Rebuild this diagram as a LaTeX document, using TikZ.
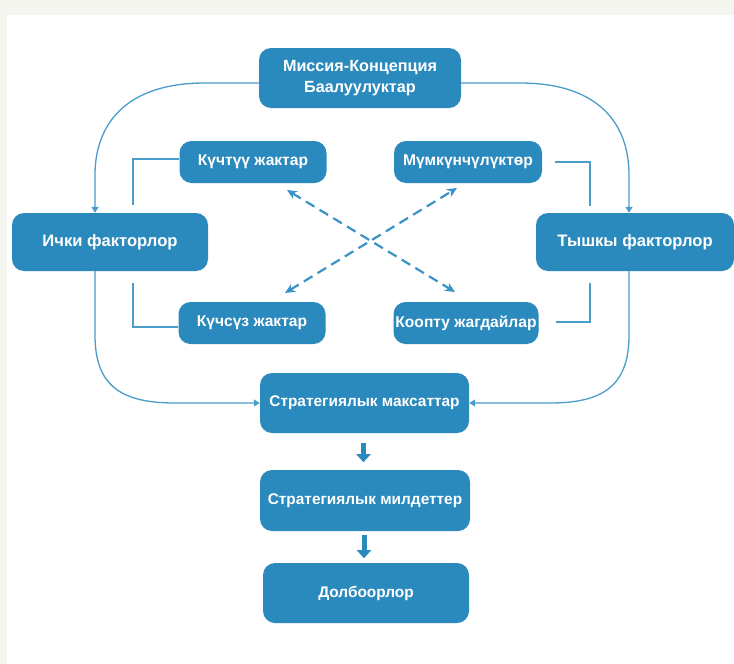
\documentclass[tikz,border=0pt]{standalone}
\usepackage{fontspec}
\setmainfont{Liberation Sans}
\usetikzlibrary{arrows.meta,calc}
\definecolor{boxblue}{HTML}{2B8ABD}
\definecolor{lineblue}{HTML}{4A9CCB}
\definecolor{dashblue}{HTML}{3A93C6}
\definecolor{paper}{HTML}{F5F5F0}
\tikzset{
  box/.style={fill=boxblue, rounded corners=12pt, text=white, font=\bfseries\fontsize{15.4}{18}\selectfont, align=center, inner sep=0pt},
  bigbox/.style={box, font=\bfseries\fontsize{16.6}{21}\selectfont},
  thinline/.style={draw=lineblue, line width=1.3pt},
  curveline/.style={draw=lineblue, line width=1.3pt, -{Triangle[length=6pt,width=7pt]}},
  dashline/.style={draw=dashblue, line width=2.2pt, dash pattern=on 10pt off 6pt, {Stealth[length=10pt,width=9pt]}-{Stealth[length=10pt,width=9pt]}},
  fatarrow/.style={draw=boxblue, line width=5pt, -{Triangle[length=8pt,width=14pt]}}
}
\begin{document}
\begin{tikzpicture}[x=1pt,y=-1pt]
\useasboundingbox (0,0) rectangle (734,664);
\fill[paper] (0,0) rectangle (734,664);
\fill[white] (7,15) rectangle (734,664);

\node[bigbox, font=\bfseries\fontsize{16.2}{21}\selectfont, minimum width=202pt, minimum height=60pt] (mis) at (360,78) {Миссия-Концепция\\Баалуулуктар};
\node[box, font=\bfseries\fontsize{15.6}{18}\selectfont, minimum width=147pt, minimum height=42pt] (kt) at (253,162) {Күчтүү жактар};
\node[box, font=\bfseries\fontsize{15.6}{18}\selectfont, minimum width=148pt, minimum height=42pt] (mk) at (468,162) {Мүмкүнчүлүктөр};
\node[bigbox, minimum width=196pt, minimum height=58pt] (ich) at (110,242) {Ички факторлор};
\node[bigbox, minimum width=198pt, minimum height=58pt] (tsh) at (635,242) {Тышкы факторлор};
\node[box, font=\bfseries\fontsize{15.6}{18}\selectfont, minimum width=147pt, minimum height=42pt] (ks) at (252,323) {Күчсүз жактар};
\node[box, font=\bfseries\fontsize{15.6}{18}\selectfont, minimum width=145pt, minimum height=42pt] (kp) at (466,323) {Коопту жагдайлар};
\node[box, minimum width=209pt, minimum height=60pt] (sm) at (364.5,403) {Стратегиялык максаттар};
\node[box, minimum width=210pt, minimum height=61pt] (sd) at (365,500.5) {Стратегиялык милдеттер};
\node[box, minimum width=206pt, minimum height=60pt] (dl) at (366,593) {Долбоорлор};

% curved connectors
\coordinate (mL) at (259,83);
\coordinate (mR) at (461,83);
\draw[curveline] (mL) -- (205,83) .. controls (125,83) and (95,125) .. (95,175) -- (ich.north -| 95,0);
\draw[curveline] (mR) -- (520,83) .. controls (600,83) and (629,125) .. (629,175) -- (tsh.north -| 629,0);
\draw[curveline] (ich.south -| 95,0) -- (95,335) .. controls (95,385) and (120,403) .. (175,403) -- (sm.west);
\draw[curveline] (tsh.south -| 629,0) -- (629,335) .. controls (629,385) and (604,403) .. (550,403) -- (sm.east);

% brackets
\draw[thinline] (kt.west |- 0,159) -- (133,159) -- (133,205);
\draw[thinline] (ks.west |- 0,327) -- (133,327) -- (133,283);
\draw[thinline] (mk.east |- 0,162) ++(13,0) -- (590,162) -- (590,206);
\draw[thinline] (kp.east |- 0,322) ++(17,0) -- (590,322) -- (590,283);

% dashed crossing arrows
\coordinate (a1) at (287,190);
\coordinate (a2) at (455,292);
\coordinate (b1) at (285,293);
\coordinate (b2) at (457,188);
\draw[dashline] (a1) -- (a2);
\draw[dashline] (b1) -- (b2);

% fat arrows
\draw[fatarrow] ($(sm.south)+(-1,10)$) -- ($(sm.south)+(-1,29)$);
\draw[fatarrow] ($(sd.south)+(-1,4)$) -- ($(sd.south)+(-1,27)$);
\end{tikzpicture}
\end{document}
